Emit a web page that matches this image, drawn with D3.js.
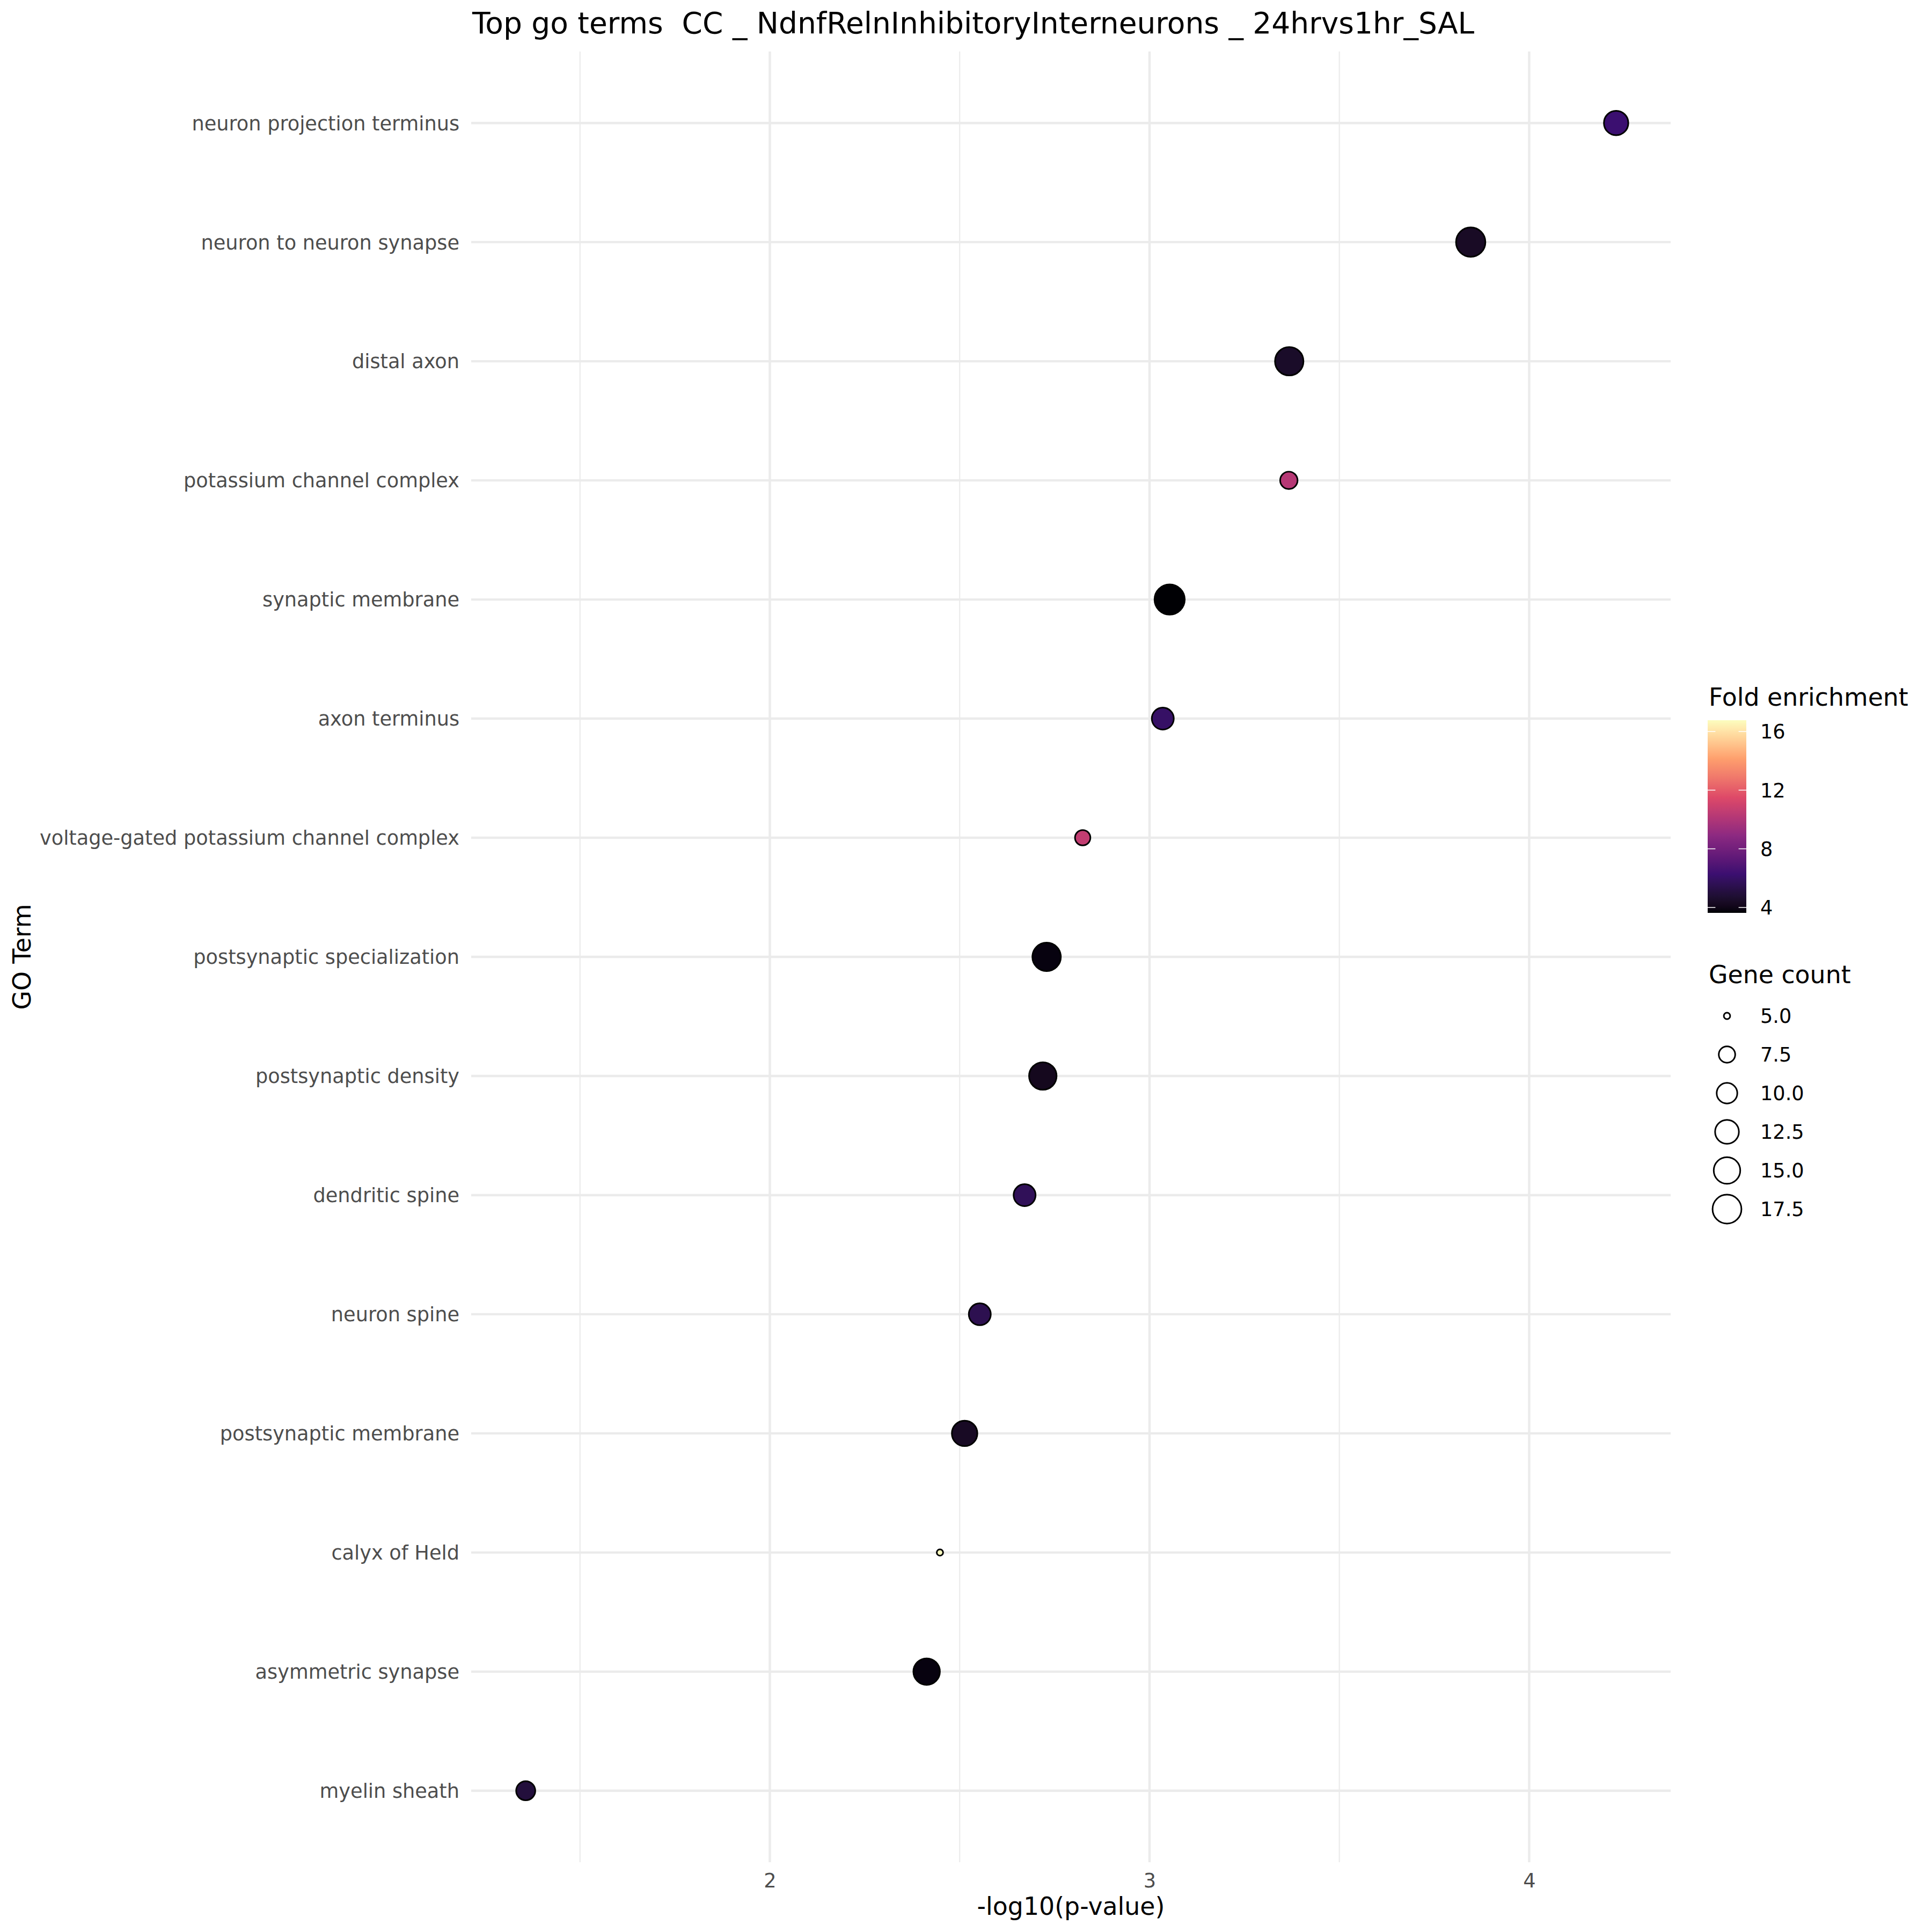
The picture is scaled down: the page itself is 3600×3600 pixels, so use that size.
<!DOCTYPE html>
<html>
<head>
<meta charset="utf-8">
<script src="https://cdn.jsdelivr.net/npm/d3@7"></script>
<style>
  html, body { margin: 0; padding: 0; background: #ffffff; }
  svg text { font-family: "DejaVu Sans", sans-serif; white-space: pre; }
</style>
</head>
<body>
<svg id="chart" width="3600" height="3600"></svg>
<script>
// ---------------- data (top row first) ----------------
const terms = [
  "neuron projection terminus",
  "neuron to neuron synapse",
  "distal axon",
  "potassium channel complex",
  "synaptic membrane",
  "axon terminus",
  "voltage-gated potassium channel complex",
  "postsynaptic specialization",
  "postsynaptic density",
  "dendritic spine",
  "neuron spine",
  "postsynaptic membrane",
  "calyx of Held",
  "asymmetric synapse",
  "myelin sheath"
];
const negLog10P = [4.229, 3.846, 3.368, 3.367, 3.053, 3.035, 2.824, 2.729, 2.719, 2.671, 2.553, 2.513, 2.448, 2.413, 1.357];
const geneCount = [13, 18, 17, 8, 19, 11, 7, 17, 16, 11, 11, 14, 5, 15, 9];
const foldEnrichment = [6.26, 4.4, 4.5, 10.2, 3.63, 6.0, 10.6, 3.8, 4.2, 5.7, 5.5, 4.35, 16.77, 3.8, 5.0];

const xMajorTicks = [2, 3, 4];
const xMinorTicks = [1.5, 2.5, 3.5];
const colorTicks = [4, 8, 12, 16];
const sizeBreaks = [5, 7.5, 10, 12.5, 15, 17.5];
const magmaStops = ["#000004", "#3B0F70", "#8C2981", "#DE4968", "#FE9F6D", "#FCFDBF"];

const titleText = "Top go terms  CC _ NdnfRelnInhibitoryInterneurons _ 24hrvs1hr_SAL";
const xTitle = "-log10(p-value)";
const yTitle = "GO Term";
const colorTitle = "Fold enrichment";
const sizeTitle = "Gene count";

// ---------------- layout ----------------
const panel = { left: 878, right: 3113, top: 96, bottom: 3470 };
const svg = d3.select("#chart");
svg.append("rect").attr("width", 3600).attr("height", 3600).attr("fill", "#ffffff");

const data = terms.map((t, i) => ({ term: t, x: negLog10P[i], n: geneCount[i], fe: foldEnrichment[i] }));

// x scale with ggplot 5% expansion
const xMin = d3.min(negLog10P), xMax = d3.max(negLog10P);
const xPad = (xMax - xMin) * 0.05;
const x = d3.scaleLinear().domain([xMin - xPad, xMax + xPad]).range([panel.left, panel.right]);

// y discrete scale, 0.6 expansion
const y = d3.scalePoint().domain(terms).range([panel.top, panel.bottom]).padding(0.6);

// colour scale (6-colour magma, Lab interpolation like ggplot)
const feMin = d3.min(foldEnrichment), feMax = d3.max(foldEnrichment);
const colorDomain = magmaStops.map((c, i) => feMin + (feMax - feMin) * i / (magmaStops.length - 1));
const color = d3.scaleLinear().domain(colorDomain).range(magmaStops).interpolate(d3.interpolateLab).clamp(true);

// size: ggplot area palette range c(1,6), shape 21 with stroke 0.5 at 300 dpi
const nMin = d3.min(geneCount), nMax = d3.max(geneCount);
const sizeScale = d3.scaleSqrt().domain([0, nMax - nMin]).range([0, 5]);
const sz = v => 1 + sizeScale(Math.max(0, v - nMin));
const radius = v => (2.845 * sz(v) + 0.945) * 3.125 / 2;
const strokeW = 2.95;

// ---------------- grid ----------------
const grid = svg.append("g");
grid.selectAll("line.minor").data(xMinorTicks).join("line")
  .attr("x1", d => x(d)).attr("x2", d => x(d))
  .attr("y1", panel.top).attr("y2", panel.bottom)
  .attr("stroke", "#EBEBEB").attr("stroke-width", 2.2);
grid.selectAll("line.majorx").data(xMajorTicks).join("line")
  .attr("x1", d => x(d)).attr("x2", d => x(d))
  .attr("y1", panel.top).attr("y2", panel.bottom)
  .attr("stroke", "#EBEBEB").attr("stroke-width", 4.4);
grid.selectAll("line.majory").data(terms).join("line")
  .attr("x1", panel.left).attr("x2", panel.right)
  .attr("y1", d => y(d)).attr("y2", d => y(d))
  .attr("stroke", "#EBEBEB").attr("stroke-width", 4.4);

// ---------------- axes ----------------
const xAxis = d3.axisBottom(x).tickValues(xMajorTicks).tickSize(0).tickPadding(0).tickFormat(d3.format("d"));
const gx = svg.append("g").attr("transform", `translate(0,${3517})`).call(xAxis);
gx.select(".domain").remove();
gx.selectAll("text").attr("dy", 0).attr("y", 0)
  .attr("font-size", 36.7).attr("fill", "#4D4D4D").attr("font-family", "DejaVu Sans");

const yAxis = d3.axisLeft(y).tickSize(0).tickPadding(0);
const gy = svg.append("g").attr("transform", `translate(${856},0)`).call(yAxis);
gy.select(".domain").remove();
gy.selectAll("text").attr("x", 0).attr("dy", "0.35em")
  .attr("font-size", 36.7).attr("fill", "#4D4D4D").attr("font-family", "DejaVu Sans");

// ---------------- points ----------------
svg.append("g").selectAll("circle").data(data).join("circle")
  .attr("cx", d => x(d.x)).attr("cy", d => y(d.term))
  .attr("r", d => radius(d.n))
  .attr("fill", d => color(d.fe))
  .attr("stroke", "#000000").attr("stroke-width", strokeW);

// ---------------- titles ----------------
svg.append("text").attr("x", 880).attr("y", 62).attr("font-size", 55)
  .attr("fill", "#000").text(titleText);
svg.append("text").attr("x", (panel.left + panel.right) / 2).attr("y", 3568)
  .attr("text-anchor", "middle").attr("font-size", 45.8).attr("fill", "#000").text(xTitle);
svg.append("text").attr("transform", `translate(57,${(panel.top + panel.bottom) / 2}) rotate(-90)`)
  .attr("text-anchor", "middle").attr("font-size", 45.8).attr("fill", "#000").text(yTitle);

// ---------------- colour legend ----------------
const bar = { x: 3182, w: 72, top: 1342, bottom: 1701 };
svg.append("text").attr("x", 3184).attr("y", 1315).attr("font-size", 45.8).attr("fill", "#000").text(colorTitle);
const defs = svg.append("defs");
const grad = defs.append("linearGradient").attr("id", "feGrad")
  .attr("x1", 0).attr("y1", 1).attr("x2", 0).attr("y2", 0);
d3.range(0, 1.0001, 0.02).forEach(t => {
  grad.append("stop").attr("offset", t).attr("stop-color", color(feMin + t * (feMax - feMin)));
});
svg.append("rect").attr("x", bar.x).attr("y", bar.top).attr("width", bar.w).attr("height", bar.bottom - bar.top)
  .attr("fill", "url(#feGrad)");
const cbY = d3.scaleLinear().domain([feMin, feMax]).range([bar.bottom, bar.top]);
const cbTicks = svg.append("g");
colorTicks.forEach(v => {
  cbTicks.append("line").attr("x1", bar.x).attr("x2", bar.x + bar.w / 5)
    .attr("y1", cbY(v)).attr("y2", cbY(v)).attr("stroke", "#ffffff").attr("stroke-width", 1.5);
  cbTicks.append("line").attr("x1", bar.x + bar.w * 4 / 5).attr("x2", bar.x + bar.w)
    .attr("y1", cbY(v)).attr("y2", cbY(v)).attr("stroke", "#ffffff").attr("stroke-width", 1.5);
  cbTicks.append("text").attr("x", 3280).attr("y", cbY(v)).attr("dy", "0.36em")
    .attr("font-size", 36.7).attr("fill", "#000").text(v);
});

// ---------------- size legend ----------------
svg.append("text").attr("x", 3184).attr("y", 1832).attr("font-size", 45.8).attr("fill", "#000").text(sizeTitle);
const keyY = d3.scalePoint().domain(sizeBreaks).range([1893, 1893 + 72 * (sizeBreaks.length - 1)]);
const sk = svg.append("g");
sk.selectAll("circle").data(sizeBreaks).join("circle")
  .attr("cx", 3218).attr("cy", d => keyY(d)).attr("r", d => radius(d))
  .attr("fill", "none").attr("stroke", "#000").attr("stroke-width", strokeW);
sk.selectAll("text").data(sizeBreaks).join("text")
  .attr("x", 3280).attr("y", d => keyY(d)).attr("dy", "0.36em")
  .attr("font-size", 36.7).attr("fill", "#000").text(d => d3.format(".1f")(d));
</script>
</body>
</html>
